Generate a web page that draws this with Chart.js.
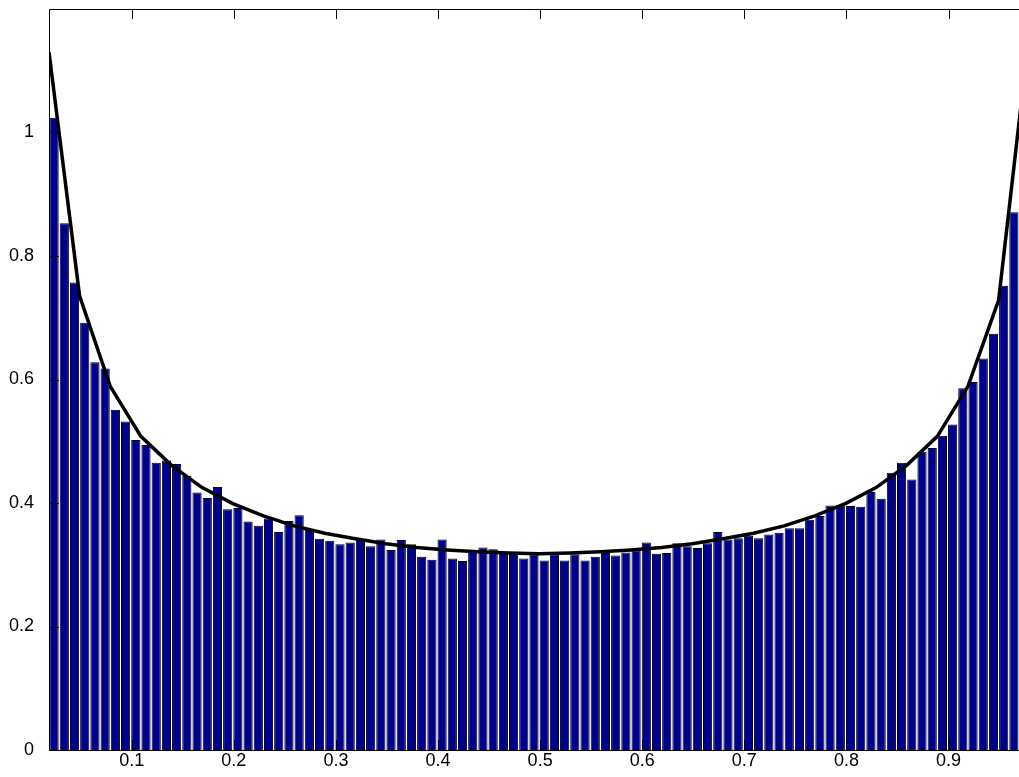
<!DOCTYPE html>
<html>
<head>
<meta charset="utf-8">
<script src="https://cdn.jsdelivr.net/npm/chart.js@4"></script>
<style>
  body { margin: 0; background: #fff; }
  #wrap { width: 1019px; height: 777px; }
</style>
</head>
<body>
<div id="wrap"><canvas id="hist" width="1019" height="777"></canvas></div>
<script>
// histogram bin centres (width 0.01)
const binCenters = [
  0.024, 0.034, 0.044, 0.054, 0.064, 0.074, 0.084, 0.094, 0.104, 0.114,
  0.124, 0.134, 0.144, 0.154, 0.164, 0.174, 0.184, 0.194, 0.204, 0.214,
  0.224, 0.234, 0.244, 0.254, 0.264, 0.274, 0.284, 0.294, 0.304, 0.314,
  0.324, 0.334, 0.344, 0.354, 0.364, 0.374, 0.384, 0.394, 0.404, 0.414,
  0.424, 0.434, 0.444, 0.454, 0.464, 0.474, 0.484, 0.494, 0.504, 0.514,
  0.524, 0.534, 0.544, 0.554, 0.564, 0.574, 0.584, 0.594, 0.604, 0.614,
  0.624, 0.634, 0.644, 0.654, 0.664, 0.674, 0.684, 0.694, 0.704, 0.714,
  0.724, 0.734, 0.744, 0.754, 0.764, 0.774, 0.784, 0.794, 0.804, 0.814,
  0.824, 0.834, 0.844, 0.854, 0.864, 0.874, 0.884, 0.894, 0.904, 0.914,
  0.924, 0.934, 0.944, 0.954, 0.964
];

// bar heights (normalised counts)
const binHeights = [
  1.024, 0.853, 0.757, 0.692, 0.628, 0.618, 0.551, 0.532, 0.502, 0.494,
  0.465, 0.469, 0.463, 0.444, 0.417, 0.408, 0.426, 0.390, 0.392, 0.370,
  0.363, 0.375, 0.353, 0.371, 0.380, 0.357, 0.342, 0.339, 0.333, 0.336,
  0.341, 0.330, 0.341, 0.324, 0.340, 0.333, 0.313, 0.308, 0.341, 0.310,
  0.306, 0.322, 0.328, 0.325, 0.321, 0.318, 0.310, 0.316, 0.307, 0.317,
  0.307, 0.317, 0.307, 0.313, 0.319, 0.315, 0.320, 0.323, 0.336, 0.318,
  0.319, 0.335, 0.330, 0.327, 0.335, 0.353, 0.341, 0.343, 0.347, 0.343,
  0.349, 0.352, 0.359, 0.359, 0.373, 0.379, 0.396, 0.396, 0.395, 0.394,
  0.418, 0.407, 0.449, 0.465, 0.438, 0.483, 0.489, 0.509, 0.527, 0.586,
  0.596, 0.634, 0.674, 0.752, 0.871
];

// density curve
const curveX = [
  0.019, 0.049, 0.079, 0.109, 0.139, 0.169, 0.199, 0.229, 0.259, 0.289,
  0.319, 0.349, 0.379, 0.409, 0.439, 0.469, 0.499, 0.529, 0.559, 0.589,
  0.619, 0.649, 0.679, 0.709, 0.739, 0.769, 0.799, 0.829, 0.859, 0.889,
  0.919, 0.949, 0.979
];
const curveY = [
  1.13, 0.735, 0.589, 0.508, 0.461, 0.425, 0.399, 0.379, 0.363, 0.351,
  0.342, 0.334, 0.328, 0.324, 0.321, 0.319, 0.318, 0.319, 0.321, 0.324,
  0.328, 0.334, 0.342, 0.351, 0.363, 0.379, 0.399, 0.425, 0.461, 0.508,
  0.589, 0.728, 1.16
];

const xTicks = [0.1, 0.2, 0.3, 0.4, 0.5, 0.6, 0.7, 0.8, 0.9];
const yTicks = [0, 0.2, 0.4, 0.6, 0.8, 1];

const barData = binCenters.map((x, i) => ({ x: x, y: binHeights[i] }));
const lineData = curveX.map((x, i) => ({ x: x, y: curveY[i] }));

const labelFont = { family: "'Liberation Sans', Arial, sans-serif", size: 18 };

// matlab style box with inward ticks
const boxTicks = {
  id: "boxTicks",
  afterDatasetsDraw(chart) {
    const ctx = chart.ctx;
    const a = chart.chartArea;
    const xs = chart.scales.x;
    const ys = chart.scales.y;
    const len = 10;
    ctx.save();
    ctx.strokeStyle = "#000";
    ctx.lineWidth = 1;
    ctx.beginPath();
    ctx.moveTo(a.left + 0.5, a.bottom + 0.5);
    ctx.lineTo(a.left + 0.5, a.top + 0.5);
    ctx.lineTo(a.right + 1, a.top + 0.5);
    ctx.moveTo(a.left, a.bottom + 0.5);
    ctx.lineTo(a.right + 1, a.bottom + 0.5);
    xTicks.forEach((v) => {
      const px = Math.round(xs.getPixelForValue(v)) + 0.5;
      ctx.moveTo(px, a.bottom);
      ctx.lineTo(px, a.bottom - len);
      ctx.moveTo(px, a.top);
      ctx.lineTo(px, a.top + len);
    });
    yTicks.forEach((v) => {
      const py = Math.round(ys.getPixelForValue(v)) + 0.5;
      ctx.moveTo(a.left, py);
      ctx.lineTo(a.left + len, py);
    });
    ctx.stroke();
    ctx.restore();
  },
};

new Chart(document.getElementById("hist"), {
  type: "bar",
  data: {
    datasets: [
      {
        type: "line",
        data: lineData,
        borderColor: "#000",
        borderWidth: 3.5,
        pointRadius: 0,
        tension: 0,
        fill: false,
        order: 0,
      },
      {
        type: "bar",
        data: barData,
        backgroundColor: "#00008f",
        borderColor: "#000",
        borderWidth: 1,
        barPercentage: 0.9,
        categoryPercentage: 1,
        order: 1,
      },
    ],
  },
  options: {
    responsive: false,
    animation: false,
    events: [],
    layout: { padding: { top: 9, right: 0, left: 0, bottom: 0 } },
    plugins: { legend: { display: false }, tooltip: { enabled: false } },
    scales: {
      x: {
        type: "linear",
        min: 0.019,
        max: 0.969,
        offset: false,
        grid: { display: false, offset: false },
        border: { display: false },
        afterBuildTicks: (s) => { s.ticks = xTicks.map((v) => ({ value: v })); },
        afterFit: (s) => {
          s.height = 27;
          s.paddingLeft = 0;
          s.paddingRight = 0;
        },
        ticks: {
          color: "#000",
          font: labelFont,
          padding: -8,
          maxRotation: 0,
          autoSkip: false,
          callback: (v) => String(v),
        },
      },
      y: {
        type: "linear",
        min: 0,
        max: 1.2,
        grid: { display: false },
        border: { display: false },
        afterBuildTicks: (s) => { s.ticks = yTicks.map((v) => ({ value: v })); },
        afterFit: (s) => {
          s.width = 49;
          s.paddingTop = 0;
          s.paddingBottom = 0;
        },
        ticks: {
          color: "#000",
          font: labelFont,
          padding: 7,
          callback: (v) => String(v),
        },
      },
    },
  },
  plugins: [boxTicks],
});
</script>
</body>
</html>
